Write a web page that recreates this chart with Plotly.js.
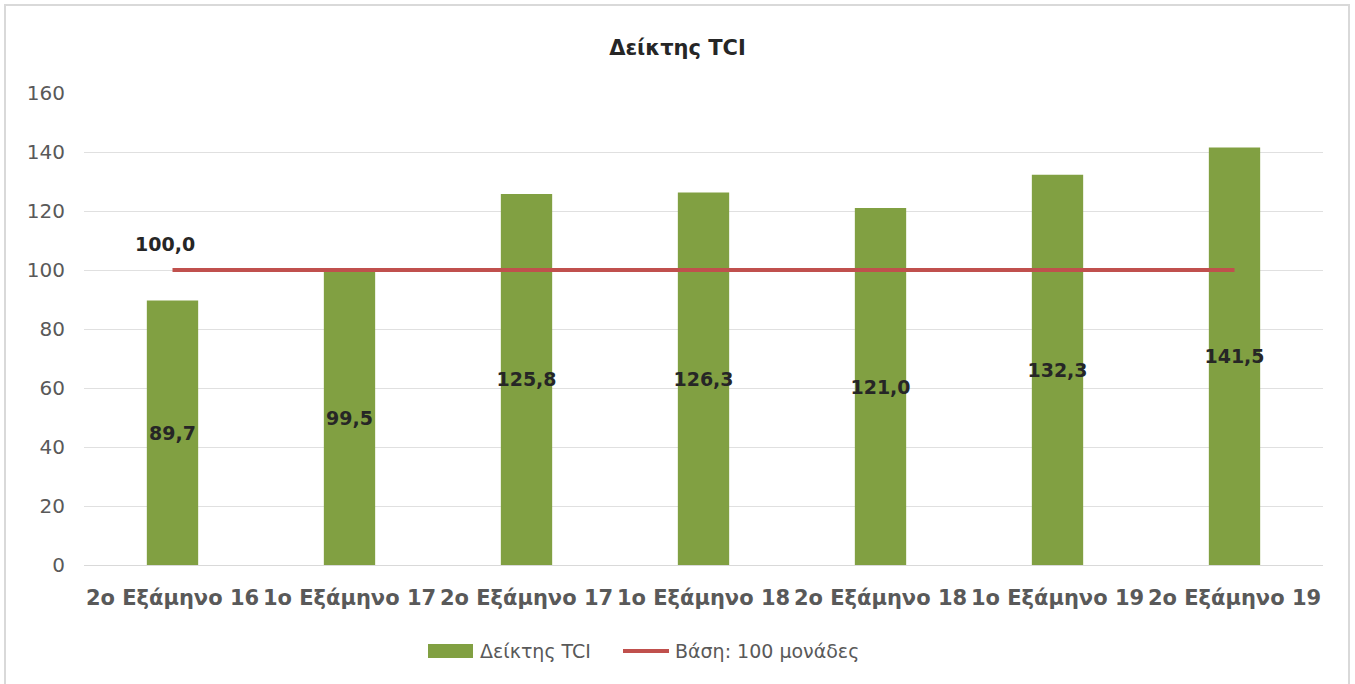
<!DOCTYPE html>
<html>
<head>
<meta charset="utf-8">
<script src="https://cdn.plot.ly/plotly-3.0.1.min.js"></script>
<style>
html,body{margin:0;padding:0;background:#fff;}
#wrap{position:relative;width:1355px;height:684px;overflow:hidden;}
#chart{width:1355px;height:684px;}
#frame{position:absolute;left:4px;top:4px;width:1346px;height:690px;border:2px solid #d9d9d9;box-sizing:border-box;pointer-events:none;}
</style>
</head>
<body>
<div id="wrap"><div id="chart"></div><div id="frame"></div></div>
<script>
const categories = ['2ο Εξάμηνο 16','1ο Εξάμηνο 17','2ο Εξάμηνο 17','1ο Εξάμηνο 18','2ο Εξάμηνο 18','1ο Εξάμηνο 19','2ο Εξάμηνο 19'];
const tciValues = [89.7, 99.5, 125.8, 126.3, 121.0, 132.3, 141.5];
const baseValues = [100, 100, 100, 100, 100, 100, 100];
const yTicks = [0, 20, 40, 60, 80, 100, 120, 140, 160];
const seriesNames = ['Δείκτης TCI', 'Βάση: 100 μονάδες'];

const fmt = v => v.toFixed(1).replace('.', ',');
const FONT = 'DejaVu Sans, sans-serif';
const GREEN = '#81A042', RED = '#C0504D';

// plot area in pixels: x 84..1323, y 93..565
const PL = 84, PW = 1239, PB = 565, PH = 472;
const px = v => (v - PL) / PW;
const py = v => (PB - v) / PH;

const bars = {
  type: 'bar', name: seriesNames[0], x: categories, y: tciValues,
  marker: {color: GREEN},
  width: 0.29,
  text: tciValues.map(fmt), textposition: 'inside', insidetextanchor: 'middle',
  constraintext: 'none',
  textfont: {family: FONT, size: 19, color: '#262626', weight: 'bold'},
  textangle: 0, cliponaxis: false
};
const line = {
  type: 'scatter', mode: 'lines', name: seriesNames[1], x: categories, y: baseValues,
  line: {color: RED, width: 4}, cliponaxis: false
};

const layout = {
  width: 1355, height: 684,
  margin: {l: PL, r: 1355 - PL - PW, t: PB - PH, b: 684 - PB},
  paper_bgcolor: '#fff', plot_bgcolor: '#fff',
  separators: ',.',
  showlegend: false,
  title: {text: '<b>Δείκτης TCI</b>', x: 0.5, xref: 'container', y: 0.93, yref: 'container', yanchor: 'middle',
          font: {family: FONT, size: 21, color: '#262626'}},
  xaxis: {type: 'category', tickfont: {family: FONT, size: 21, color: '#595959', weight: 'bold'},
          showline: true, linecolor: '#d9d9d9', linewidth: 1, ticks: '', showgrid: false, automargin: false,
          ticklabelstandoff: 14},
  yaxis: {range: [0, 160], tickvals: yTicks, ticktext: yTicks.map(String),
          tickfont: {family: FONT, size: 20, color: '#595959'},
          gridcolor: '#e0e0e0', gridwidth: 1, zeroline: false, showline: false, ticks: '',
          automargin: false, ticklabelstandoff: 18},
  annotations: [
    {x: categories[0], y: baseValues[0], xref: 'x', yref: 'y', text: '<b>' + fmt(baseValues[0]) + '</b>',
     showarrow: false, yshift: 26, xshift: -8, font: {family: FONT, size: 19, color: '#262626'}},
    {x: px(478), y: py(651), xref: 'paper', yref: 'paper', xanchor: 'left', yanchor: 'middle', showarrow: false,
     text: seriesNames[0], font: {family: FONT, size: 19, color: '#595959'}},
    {x: px(673), y: py(651), xref: 'paper', yref: 'paper', xanchor: 'left', yanchor: 'middle', showarrow: false,
     text: seriesNames[1], font: {family: FONT, size: 19, color: '#595959'}}
  ],
  shapes: [
    {type: 'rect', xref: 'paper', yref: 'paper', x0: px(428), x1: px(473), y0: py(658), y1: py(644),
     fillcolor: GREEN, line: {width: 0}},
    {type: 'line', xref: 'paper', yref: 'paper', x0: px(623), x1: px(669), y0: py(651), y1: py(651),
     line: {color: RED, width: 4}}
  ]
};

Plotly.newPlot('chart', [bars, line], layout, {displayModeBar: false, staticPlot: true});
</script>
</body>
</html>
